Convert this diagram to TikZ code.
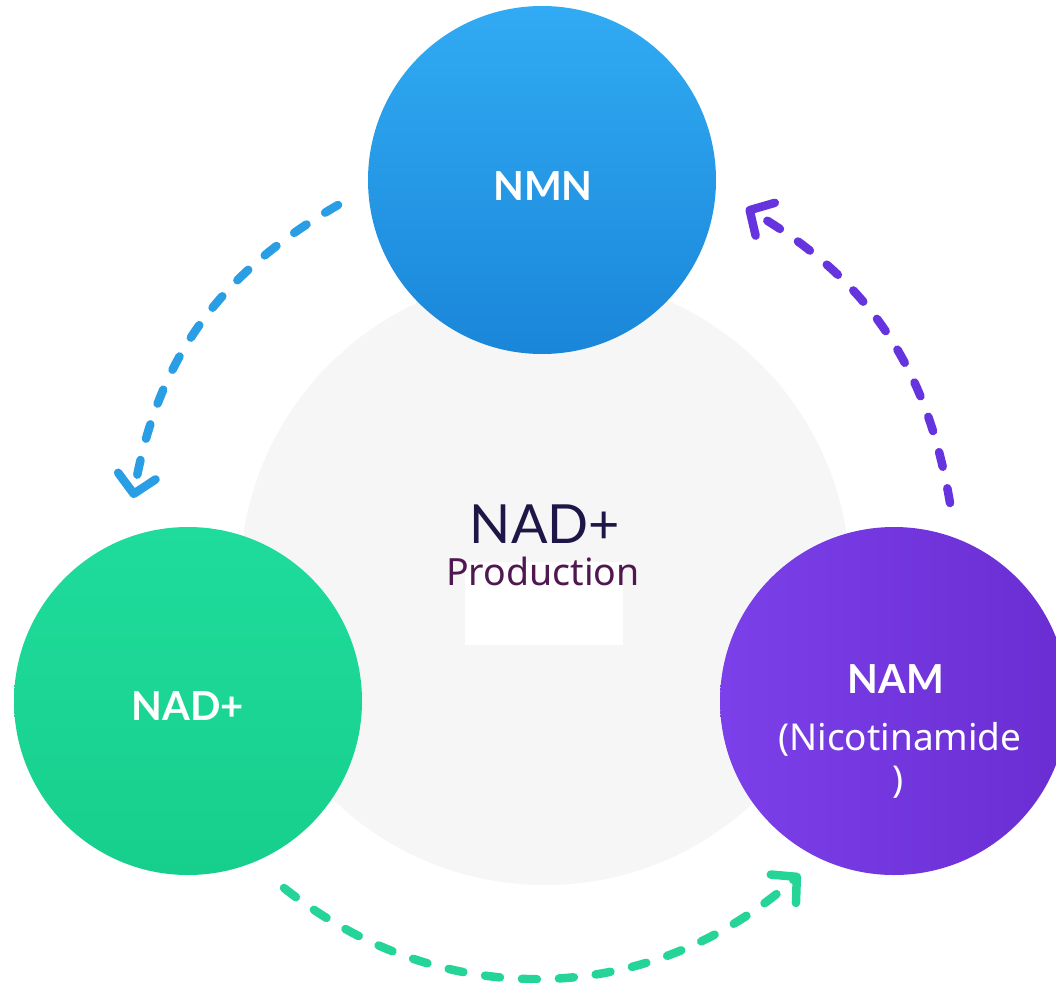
\documentclass[tikz,border=0pt]{standalone}
\usepackage{fontspec}
\setmainfont{Noto Sans}
\newfontfamily\latofont{Lato}
\usetikzlibrary{arrows.meta}
\definecolor{coreGray}{HTML}{F6F6F7}
\definecolor{nmnTop}{HTML}{31ABF3}
\definecolor{nmnBot}{HTML}{1A86D9}
\definecolor{nadTop}{HTML}{1FDC9C}
\definecolor{nadBot}{HTML}{17CF8D}
\definecolor{namLeft}{HTML}{7C40EA}
\definecolor{namRight}{HTML}{6A2DD2}
\definecolor{arrBlue}{HTML}{2A9EE4}
\definecolor{arrPurple}{HTML}{6634DF}
\definecolor{arrGreen}{HTML}{24D597}
\definecolor{coreText}{HTML}{1E1646}
\definecolor{prodText}{HTML}{4F1850}
\begin{document}
\begin{tikzpicture}[x=1pt,y=-1pt,
  ball/.style={circle, minimum size=348pt, inner sep=0pt},
  balltext/.style={text=white, font=\latofont\bfseries\fontsize{40}{48}\selectfont, anchor=base, inner sep=0pt},
  subtext/.style={text=white, font=\fontsize{37}{44}\selectfont, anchor=base, inner sep=0pt},
  dasharrow/.style={line width=8.5pt, line cap=round, dash pattern=on 15pt off 22pt,
    -{Straight Barb[length=18pt,width=38pt,round]}}]
\useasboundingbox (0,0) rectangle (1056,982);
\fill[white] (0,0) rectangle (1056,982);
% background disc
\node[circle, fill=coreGray, minimum size=610pt, inner sep=0pt] (core) at (545,580) {};
\node[rectangle, fill=white, minimum width=158pt, minimum height=83pt, inner sep=0pt] (panel) at (544,603.5) {};
\node[text=coreText, font=\latofont\fontsize{54}{60}\selectfont, anchor=base, inner sep=0pt] (coretitle) at (545,543) {NAD+};
\node[text=prodText, font=\fontsize{37.5}{44}\selectfont, anchor=base, inner sep=0pt] (coresub) at (543,585) {Production};
% circles
\node[ball, top color=nmnTop, bottom color=nmnBot] (nmn) at (542,180) {};
\node[ball, top color=nadTop, bottom color=nadBot] (nad) at (188,701) {};
\node[ball, left color=namLeft, right color=namRight] (nam) at (894,701) {};
\node[balltext] (nmnlabel) at (543,200) {NMN};
\node[balltext] (nadlabel) at (188,720) {NAD+};
\node[balltext] (namlabel) at (896,693) {NAM};
\node[subtext] (namsub1) at (900,750) {(Nicotinamide};
\node[subtext] (namsub2) at (898,792) {)};
% arrows
\coordinate (b1) at (338,205);
\coordinate (b2) at (133,498);
\coordinate (p1) at (950,503);
\coordinate (p2) at (746,208);
\coordinate (g1) at (284,888);
\coordinate (g2) at (800,874);
\draw[dasharrow, arrBlue] (b1) to[bend right=25] (b2);
\draw[dasharrow, arrPurple] (p1) to[bend right=25] (p2);
\draw[dasharrow, arrGreen] (g1) to[bend right=40] (g2);
\end{tikzpicture}
\end{document}
